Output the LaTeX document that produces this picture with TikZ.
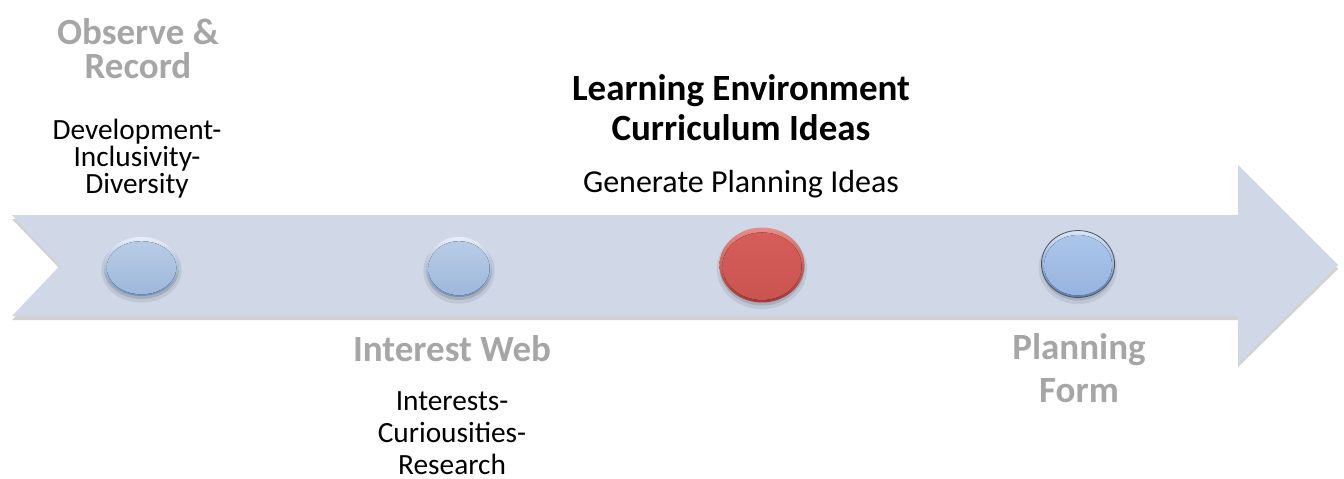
\documentclass[tikz,border=0pt]{standalone}
\usepackage{fontspec}
\setmainfont{Carlito}
\usetikzlibrary{shapes.geometric}
\definecolor{arrowfill}{RGB}{208,216,232}
\definecolor{greytxt}{RGB}{166,166,166}
\definecolor{bRimTop}{RGB}{232,239,248}
\definecolor{bRimBot}{RGB}{110,144,192}
\definecolor{bInTop}{RGB}{184,204,230}
\definecolor{bInBot}{RGB}{158,184,219}
\definecolor{rRimTop}{RGB}{236,140,136}
\definecolor{rRimBot}{RGB}{156,60,58}
\definecolor{rInTop}{RGB}{214,94,90}
\definecolor{rInBot}{RGB}{204,84,80}
\definecolor{fRimTop}{RGB}{216,230,248}
\definecolor{fRimBot}{RGB}{98,130,178}
\definecolor{fInTop}{RGB}{172,198,234}
\definecolor{fInBot}{RGB}{150,180,225}
\definecolor{fEdge}{RGB}{70,84,104}
\newcommand{\mybub}[9]{%
  \fill[black,opacity=0.08] (#2,#3) ++(0,4) ellipse [x radius=#4+2pt, y radius=#5+2pt];
  \fill[black,opacity=0.12] (#2,#3) ++(0,3) ellipse [x radius=#4, y radius=#5];
  \node[ellipse, inner sep=0pt, minimum width=2*#4, minimum height=2*#5, top color=#6, bottom color=#7] (#1) at (#2,#3) {};
  \fill[top color=#8, bottom color=#9] (#2,#3) ++(0,1.2) ellipse [x radius=0.93*#4, y radius=0.9*#5];
}
\tikzset{
  headtxt/.style={anchor=base, align=center, font=\fontsize{27.75pt}{25.5pt}\selectfont\bfseries, text=greytxt, inner sep=0pt},
  subtxt/.style={anchor=base, align=center, font=\fontsize{22pt}{19.9pt}\selectfont, text=black, inner sep=0pt},
}
\begin{document}
\begin{tikzpicture}[x=0.75pt,y=-0.75pt]
\useasboundingbox (0,0) rectangle (1344,478);
% arrow shadow
\fill[black, opacity=0.18] (12,219) -- (1238,219) -- (1238,169) -- (1338,269) -- (1238,367) -- (1238,320) -- (12,320) -- (60,269) -- cycle;
% arrow
\fill[arrowfill] (12,215) -- (1238,215) -- (1238,165) -- (1338,265) -- (1238,364) -- (1238,316) -- (12,316) -- (60,265.5) -- cycle;
% bubbles
\mybub{c1}{141.5}{266.5}{28.1pt}{22.1pt}{bRimTop}{bRimBot}{bInTop}{bInBot}
\mybub{c2}{459}{267}{24.75pt}{22.5pt}{bRimTop}{bRimBot}{bInTop}{bInBot}
\mybub{c3}{762}{265}{31.9pt}{28.1pt}{rRimTop}{rRimBot}{rInTop}{rInBot}
\mybub{c4}{1078}{264}{27.4pt}{25.1pt}{fRimTop}{fRimBot}{fInTop}{fInBot}
\draw[fEdge, line width=0.6pt] (c4.center) ellipse [x radius=27.4pt, y radius=25.1pt];
% texts (anchor base = baseline of the last line)
\node[headtxt] (obsT) at (138,79) {Observe \&\\Record};
\node[subtxt] (obsS) at (137,193) {Development-\\Inclusivity-\\Diversity};
\node[headtxt] (intT) at (452,361) {Interest Web};
\node[subtxt, font=\fontsize{22pt}{24pt}\selectfont] (intS) at (452,474) {Interests-\\Curiousities-\\Research};
\node[headtxt, text=black, font=\fontsize{27.75pt}{30pt}\selectfont\bfseries] (lrnT) at (741,140) {Learning Environment\\Curriculum Ideas};
\node[subtxt, font=\fontsize{24pt}{24pt}\selectfont] (lrnS) at (741,192) {Generate Planning Ideas};
\node[headtxt, font=\fontsize{27.75pt}{32pt}\selectfont\bfseries] (plnT) at (1079,402) {Planning\\Form};
\end{tikzpicture}
\end{document}
